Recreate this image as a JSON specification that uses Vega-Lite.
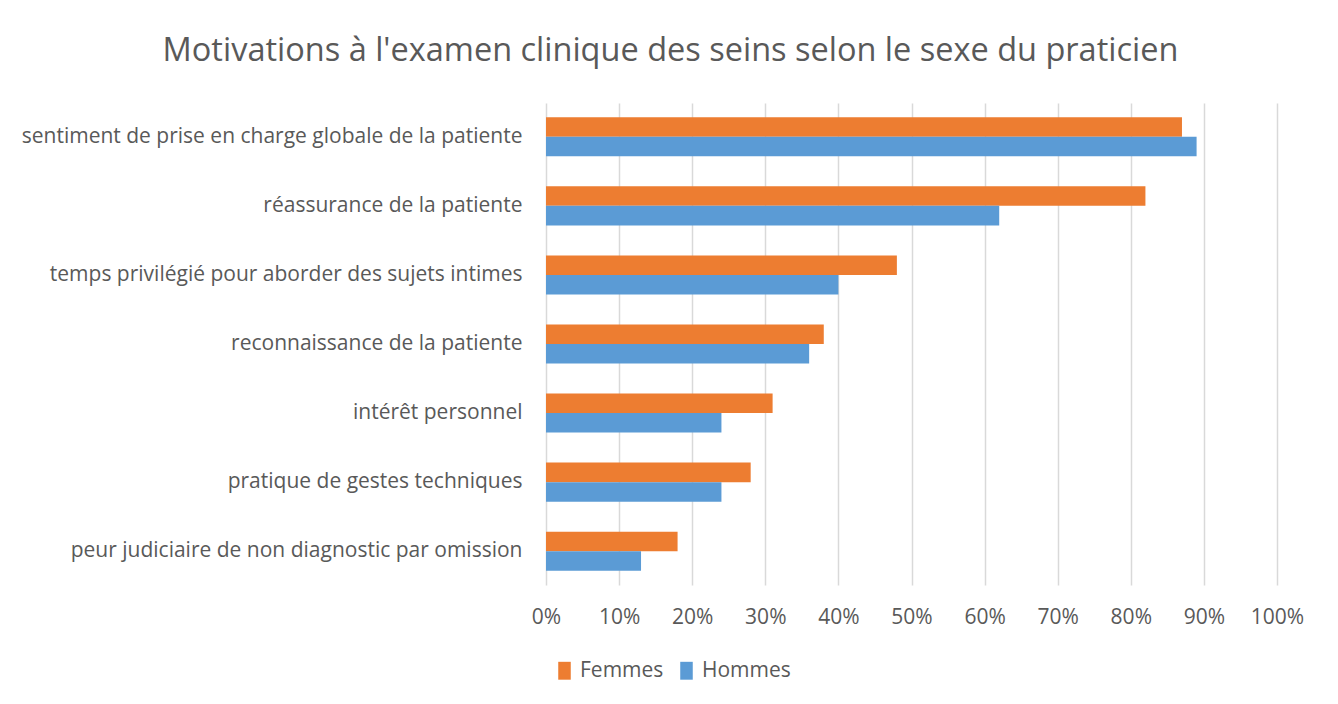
{
  "$schema": "https://vega.github.io/schema/vega-lite/v6.json",
  "autosize": "none",
  "width": 731,
  "height": 482,
  "padding": {"left": 546, "top": 103, "right": 61, "bottom": 119},
  "background": "white",
  "title": {
    "text": "Motivations à l'examen clinique des seins selon le sexe du praticien",
    "font": "Open Sans",
    "fontSize": 32.5,
    "fontWeight": "normal",
    "color": "#595959",
    "anchor": "middle",
    "dx": -241,
    "offset": 36
  },
  "data": {
    "values": [
      {"motif": "sentiment de prise en charge globale de la patiente", "sexe": "Femmes", "pct": 0.87},
      {"motif": "sentiment de prise en charge globale de la patiente", "sexe": "Hommes", "pct": 0.89},
      {"motif": "réassurance de la patiente", "sexe": "Femmes", "pct": 0.82},
      {"motif": "réassurance de la patiente", "sexe": "Hommes", "pct": 0.62},
      {"motif": "temps privilégié pour aborder des sujets intimes", "sexe": "Femmes", "pct": 0.48},
      {"motif": "temps privilégié pour aborder des sujets intimes", "sexe": "Hommes", "pct": 0.40},
      {"motif": "reconnaissance de la patiente", "sexe": "Femmes", "pct": 0.38},
      {"motif": "reconnaissance de la patiente", "sexe": "Hommes", "pct": 0.36},
      {"motif": "intérêt personnel", "sexe": "Femmes", "pct": 0.31},
      {"motif": "intérêt personnel", "sexe": "Hommes", "pct": 0.24},
      {"motif": "pratique de gestes techniques", "sexe": "Femmes", "pct": 0.28},
      {"motif": "pratique de gestes techniques", "sexe": "Hommes", "pct": 0.24},
      {"motif": "peur judiciaire de non diagnostic par omission", "sexe": "Femmes", "pct": 0.18},
      {"motif": "peur judiciaire de non diagnostic par omission", "sexe": "Hommes", "pct": 0.13}
    ]
  },
  "mark": {"type": "bar"},
  "encoding": {
    "y": {
      "field": "motif",
      "type": "nominal",
      "sort": null,
      "scale": {"paddingInner": 0.435, "paddingOuter": 0.207},
      "axis": {
        "title": null,
        "domain": false,
        "ticks": false,
        "labelFont": "Open Sans",
        "labelFontSize": 21,
        "labelColor": "#595959",
        "labelPadding": 24,
        "labelLimit": 600
      }
    },
    "yOffset": {
      "field": "sexe",
      "type": "nominal",
      "sort": ["Femmes", "Hommes"],
      "scale": {"paddingInner": 0, "paddingOuter": 0}
    },
    "x": {
      "field": "pct",
      "type": "quantitative",
      "scale": {"domain": [0, 1], "nice": false},
      "axis": {
        "title": null,
        "format": ".0%",
        "values": [0, 0.1, 0.2, 0.3, 0.4, 0.5, 0.6, 0.7, 0.8, 0.9, 1],
        "labelOverlap": false,
        "labelFlush": false,
        "domain": false,
        "ticks": false,
        "grid": true,
        "gridColor": "#d9d9d9",
        "gridWidth": 1.5,
        "labelFont": "Open Sans",
        "labelFontSize": 21,
        "labelColor": "#595959",
        "labelPadding": 21
      }
    },
    "color": {
      "field": "sexe",
      "type": "nominal",
      "sort": ["Femmes", "Hommes"],
      "scale": {"domain": ["Femmes", "Hommes"], "range": ["#ED7D31", "#5B9BD5"]},
      "legend": {
        "title": null,
        "orient": "none",
        "legendX": 8,
        "legendY": 557,
        "direction": "horizontal",
        "symbolType": "M-0.7,-1H0.7V1H-0.7Z",
        "symbolSize": 320,
        "symbolStrokeWidth": 0,
        "labelFont": "Open Sans",
        "labelFontSize": 21,
        "labelColor": "#595959",
        "columnPadding": 12,
        "labelOffset": 5
      }
    }
  },
  "config": {
    "view": {"stroke": null}
  }
}
